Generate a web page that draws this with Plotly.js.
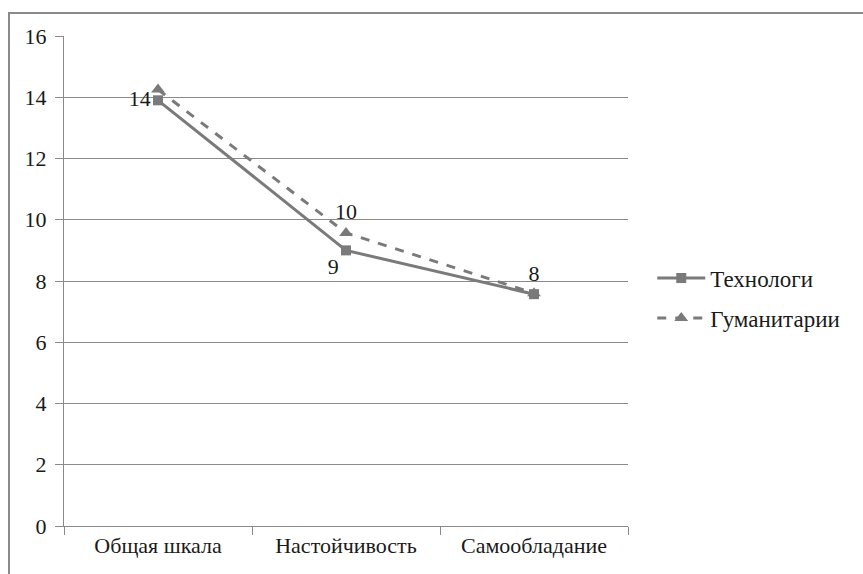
<!DOCTYPE html>
<html><head><meta charset="utf-8">
<script src="https://cdn.plot.ly/plotly-3.0.1.min.js"></script>
<style>
body{margin:0;padding:0;background:#fff;}
#wrap{position:relative;width:863px;height:574px;overflow:hidden;}
#chart{width:863px;height:574px;}
#frame{position:absolute;left:8px;top:12px;width:900px;height:620px;border:2px solid #8a8a8a;pointer-events:none;}
</style></head>
<body><div id="wrap"><div id="chart"></div><div id="frame"></div></div>
<script>
var categories = ['Общая шкала', 'Настойчивость', 'Самообладание'];
var tech = [13.9, 9.0, 7.57];
var hum = [14.25, 9.57, 7.6];
var techLabels = ['14', '9', '8'];
var humLabels = ['', '10', ''];
var yTicks = [0, 2, 4, 6, 8, 10, 12, 14, 16];

var fontFam = 'Liberation Serif, Times New Roman, serif';
var traces = [
  {x: categories, y: tech, name: 'Технологи', legendgroup: 'a', type: 'scatter', mode: 'lines+markers+text',
   line: {color: '#7a7a7a', width: 3}, marker: {symbol: 'square', size: 10, color: '#7a7a7a'},
   text: techLabels, textposition: ['middle left', 'bottom left', 'top center'],
   textfont: {family: fontFam, size: 22, color: '#1a1a1a'}, cliponaxis: false},
  {x: categories, y: hum, name: 'Гуманитарии', legendgroup: 'b', type: 'scatter', mode: 'lines+markers+text',
   line: {color: '#7a7a7a', width: 3, dash: 'dash'}, marker: {symbol: 'triangle-up', size: 12, color: '#7a7a7a'},
   text: humLabels, textposition: 'top center',
   textfont: {family: fontFam, size: 22, color: '#1a1a1a'}, cliponaxis: false}
];
var layout = {
  width: 863, height: 574,
  margin: {l: 64, r: 235, t: 36, b: 48},
  paper_bgcolor: '#fff', plot_bgcolor: '#fff',
  font: {family: fontFam, size: 22, color: '#1a1a1a'},
  showlegend: true,
  legend: {x: 1.043, y: 0.465, xanchor: 'left', yanchor: 'middle', itemwidth: 48, font: {family: fontFam, size: 23, color: '#1a1a1a'}, tracegroupgap: 7},
  xaxis: {type: 'category', range: [-0.5, 2.5], showgrid: false, showline: true, linecolor: '#8a8a8a', linewidth: 1,
          ticks: 'outside', tickson: 'boundaries', ticklen: 8, tickcolor: '#8a8a8a', zeroline: false,
          tickfont: {family: fontFam, size: 22, color: '#1a1a1a'}},
  yaxis: {range: [0, 16], tickvals: yTicks, ticktext: yTicks.map(String), showgrid: true, gridcolor: '#8a8a8a', gridwidth: 1,
          showline: true, linecolor: '#8a8a8a', linewidth: 1, ticks: 'outside', ticklen: 8, tickcolor: '#8a8a8a',
          zeroline: false, ticklabelstandoff: 4, tickfont: {family: fontFam, size: 22, color: '#1a1a1a'}}
};
Plotly.newPlot('chart', traces, layout, {displayModeBar: false, staticPlot: true});
</script></body></html>
